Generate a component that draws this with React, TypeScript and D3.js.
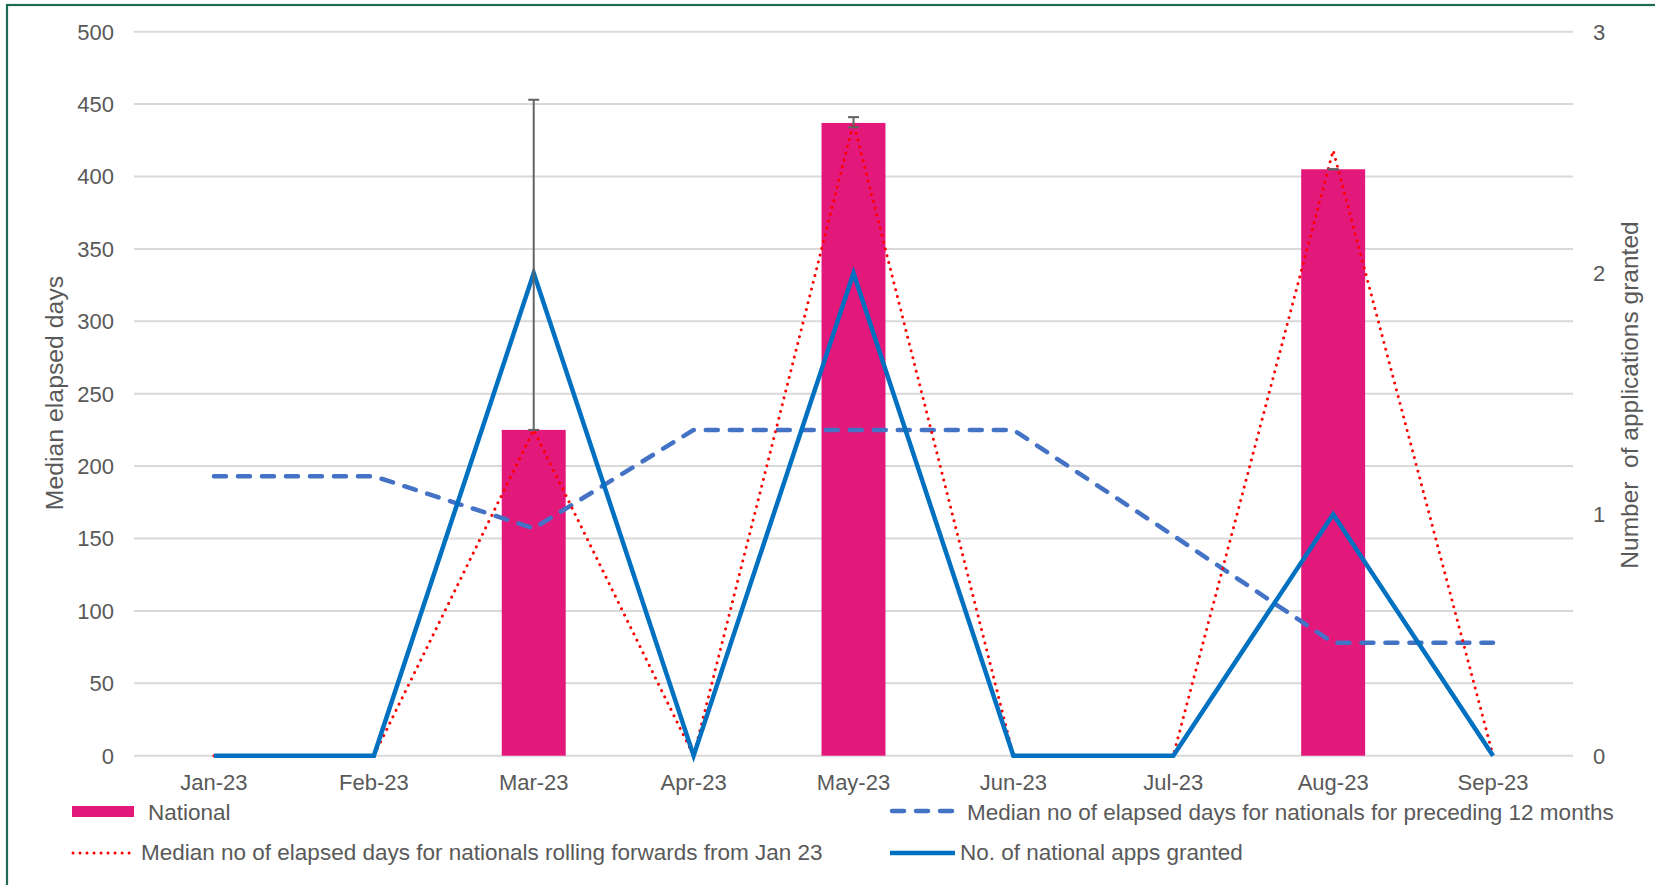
import * as d3 from "d3";

const months = ["Jan-23", "Feb-23", "Mar-23", "Apr-23", "May-23", "Jun-23", "Jul-23", "Aug-23", "Sep-23"];
// bar: median elapsed days for nationals (null = no bar)
const nationalDays: (number | null)[] = [null, null, 225, null, 437, null, null, 405, null];
const errLow: (number | null)[] = [null, null, 225, null, 434, null, null, 405, null];
const errHigh: (number | null)[] = [null, null, 453, null, 441, null, null, 405, null];
const rollingDays = [0, 0, 225, 0, 437, 0, 0, 418, 0];
const precedingDays = [193, 193, 157, 225, 225, 225, 152, 78, 78];
const appsGranted = [0, 0, 2, 0, 2, 0, 0, 1, 0];
const leftTicks = [0, 50, 100, 150, 200, 250, 300, 350, 400, 450, 500];
const rightTicks = [0, 1, 2, 3];

const W = 1655;
const H = 885;
const FONT = "'Liberation Sans', Arial, sans-serif";
const TEXT = "#595959";

export default function App() {
  const x = d3.scaleBand().domain(months).range([134, 1573]).padding(0);
  const y = d3.scaleLinear().domain([0, 500]).range([755.7, 31.7]);
  const y2 = d3.scaleLinear().domain([0, 3]).range([755.7, 31.7]);
  const cx = (m: string) => (x(m) ?? 0) + x.bandwidth() / 2;
  const barW = x.bandwidth() * 0.4;

  const lineL = d3.line<number>().x((_, i) => cx(months[i])).y((d) => y(d));
  const lineR = d3.line<number>().x((_, i) => cx(months[i])).y((d) => y2(d));

  return (
    <svg width={W} height={H} style={{ position: "absolute", left: 0, top: 0, background: "#fff" }} fontFamily={FONT}>
      <rect x={0} y={0} width={W} height={H} fill="#fff" />
      <rect x={7} y={5} width={W + 20} height={H + 20} fill="none" stroke="#1d6b57" strokeWidth={2.2} />

      {/* gridlines */}
      {leftTicks.map((t) => (
        <line key={t} x1={134} x2={1573} y1={y(t)} y2={y(t)} stroke="#d9d9d9" strokeWidth={2} />
      ))}

      {/* left ticks */}
      {leftTicks.map((t) => (
        <text key={t} x={114} y={y(t)} dy="0.36em" textAnchor="end" fontSize={22} fill={TEXT}>
          {t}
        </text>
      ))}
      {/* right ticks */}
      {rightTicks.map((t) => (
        <text key={t} x={1593} y={y2(t)} dy="0.36em" textAnchor="start" fontSize={22} fill={TEXT}>
          {t}
        </text>
      ))}
      {/* x labels */}
      {months.map((m) => (
        <text key={m} x={cx(m)} y={790} textAnchor="middle" fontSize={22} fill={TEXT}>
          {m}
        </text>
      ))}

      {/* axis titles */}
      <text transform={`translate(63,393) rotate(-90)`} textAnchor="middle" fontSize={24.8} fill={TEXT}>
        Median elapsed days
      </text>
      <text transform={`translate(1638,395) rotate(-90)`} textAnchor="middle" fontSize={24.5} fill={TEXT} style={{ whiteSpace: "pre" }}>
        {"Number  of applications granted"}
      </text>

      {/* bars */}
      {nationalDays.map((v, i) =>
        v == null ? null : (
          <rect key={i} x={cx(months[i]) - barW / 2} y={y(v)} width={barW} height={y(0) - y(v)} fill="#e2197b" />
        )
      )}

      {/* dashed: preceding 12 months */}
      <path d={lineL(precedingDays) ?? ""} fill="none" stroke="#4472c4" strokeWidth={4.5} strokeDasharray="12,12" strokeLinecap="round" strokeLinejoin="round" />
      {/* dotted: rolling forwards */}
      <path d={lineL(rollingDays) ?? ""} fill="none" stroke="#ff0000" strokeWidth={3} strokeDasharray="0.01,7" strokeLinecap="round" />
      {/* solid: apps granted (right axis) */}
      <path d={lineR(appsGranted) ?? ""} fill="none" stroke="#0070c0" strokeWidth={4.5} strokeLinejoin="miter" />

      {/* error bars */}
      {nationalDays.map((v, i) => {
        const lo = errLow[i];
        const hi = errHigh[i];
        if (v == null || lo == null || hi == null) return null;
        const c = cx(months[i]);
        return (
          <g key={i} stroke="#636363" strokeWidth={2}>
            <line x1={c} x2={c} y1={y(lo)} y2={y(hi)} />
            <line x1={c - 5.5} x2={c + 5.5} y1={y(hi)} y2={y(hi)} />
            <line x1={c - 5.5} x2={c + 5.5} y1={y(lo)} y2={y(lo)} />
          </g>
        );
      })}

      {/* legend */}
      <rect x={72} y={806} width={62} height={11} fill="#e2197b" />
      <text x={148} y={820} fontSize={22.5} fill={TEXT}>National</text>

      <line x1={892} x2={952} y1={811} y2={811} stroke="#4472c4" strokeWidth={4.5} strokeDasharray="12,12" strokeLinecap="round" />
      <text x={967} y={820} fontSize={22.5} fill={TEXT}>Median no of elapsed days for nationals for preceding 12 months</text>

      <line x1={73} x2={134} y1={853} y2={853} stroke="#ff0000" strokeWidth={3} strokeDasharray="0.01,7" strokeLinecap="round" />
      <text x={141} y={860} fontSize={22.5} fill={TEXT}>Median no of elapsed days for nationals rolling forwards from Jan 23</text>

      <line x1={890} x2={955} y1={853} y2={853} stroke="#0070c0" strokeWidth={4.5} />
      <text x={960} y={860} fontSize={22.5} fill={TEXT}>No. of national apps granted</text>
    </svg>
  );
}
